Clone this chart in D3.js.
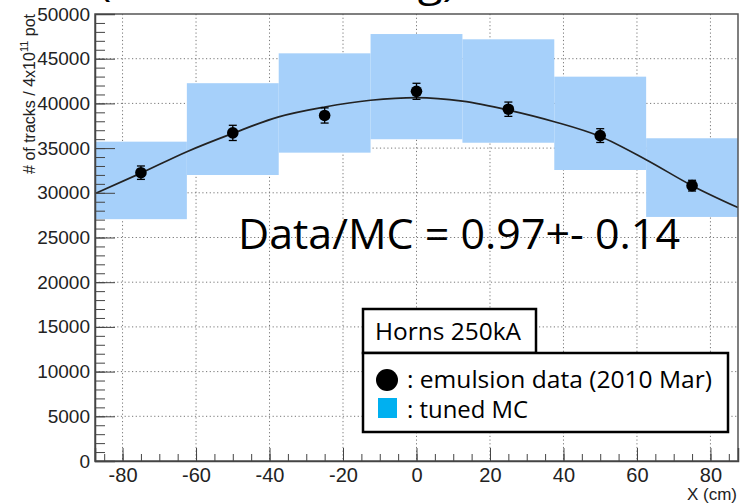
<!DOCTYPE html>
<html>
<head>
<meta charset="utf-8">
<script src="https://cdn.jsdelivr.net/npm/d3@7"></script>
<style>
body { margin: 0; background: #fff; }
svg { display: block; }
.axis path, .axis line { stroke: #444; }
.grid line { stroke: #777; stroke-dasharray: 1.2,2.5; }
.cal { font-family: "Open Sans", "Noto Sans", sans-serif; fill: #000; }
</style>
</head>
<body>
<svg width="747" height="503"></svg>
<script>

// X positions of the measurements (cm)
var posX = [-75, -50, -25, 0, 25, 50, 75];
// emulsion data, tracks / 4x10^11 pot
var dataY   = [32250, 36700, 38650, 41350, 39350, 36400, 30800];
var dataErr = [750, 850, 850, 900, 800, 770, 600];

// tuned MC: bin edges and band limits
var binEdges = [-87.5, -62.5, -37.5, -12.5, 12.5, 37.5, 62.5, 87.5];
var mcLow  = [27050, 31990, 34490, 35990, 35600, 32550, 27300];
var mcHigh = [35720, 42260, 45600, 47760, 47170, 42990, 36100];

// fitted curve, sampled
var fitX = [-87.5, -75, -62.5, -50, -37.5, -25, -12.5, 0, 12.5, 25, 37.5, 50, 62.5, 75, 87.5];
var fitY = [29900, 32200, 34600, 36650, 38500, 39600, 40350, 40650, 40250, 39250, 37950, 36300, 33700, 30800, 28350];

var xMajor = [-80, -60, -40, -20, 0, 20, 40, 60, 80];
var yMajor = [0, 5000, 10000, 15000, 20000, 25000, 30000, 35000, 40000, 45000, 50000];

var svg = d3.select("svg");
var arial = "'Liberation Sans', Arial, sans-serif";
var plain = function(d) { return String(d); };

var x = d3.scaleLinear().domain([-87.5, 87.5]).range([95, 738]);
var y = d3.scaleLinear().domain([0, 50000]).range([461, 14]);

// dotted grid
var grid = svg.append("g").attr("class", "grid");
grid.selectAll("line.gx")
    .data(xMajor).enter().append("line")
    .attr("x1", function(d) { return x(d); })
    .attr("x2", function(d) { return x(d); })
    .attr("y1", y(50000)).attr("y2", y(0));
grid.selectAll("line.gy")
    .data(yMajor.slice(1, -1)).enter().append("line")
    .attr("x1", x(-87.5)).attr("x2", x(87.5))
    .attr("y1", function(d) { return y(d); })
    .attr("y2", function(d) { return y(d); });

// MC band
svg.append("g").selectAll("rect")
    .data(mcLow).enter().append("rect")
    .attr("x", function(d, i) { return x(binEdges[i]); })
    .attr("width", function(d, i) { return x(binEdges[i + 1]) - x(binEdges[i]); })
    .attr("y", function(d, i) { return y(mcHigh[i]); })
    .attr("height", function(d, i) { return y(d) - y(mcHigh[i]); })
    .attr("fill", "#a6d0fa");

// fit
var line = d3.line()
    .x(function(d, i) { return x(fitX[i]); })
    .y(function(d) { return y(d); })
    .curve(d3.curveMonotoneX);
svg.append("path")
    .datum(fitY)
    .attr("d", line)
    .attr("fill", "none")
    .attr("stroke", "#222")
    .attr("stroke-width", 1.7);

// data points with error bars
var pts = svg.append("g");
pts.selectAll("line.err")
    .data(dataY).enter().append("line")
    .attr("x1", function(d, i) { return x(posX[i]); })
    .attr("x2", function(d, i) { return x(posX[i]); })
    .attr("y1", function(d, i) { return y(d - dataErr[i]); })
    .attr("y2", function(d, i) { return y(d + dataErr[i]); })
    .attr("stroke", "#000").attr("stroke-width", 1.3);
[-1, 1].forEach(function(s) {
  pts.selectAll(null)
      .data(dataY).enter().append("line")
      .attr("x1", function(d, i) { return x(posX[i]) - 4; })
      .attr("x2", function(d, i) { return x(posX[i]) + 4; })
      .attr("y1", function(d, i) { return y(d + s * dataErr[i]); })
      .attr("y2", function(d, i) { return y(d + s * dataErr[i]); })
      .attr("stroke", "#000").attr("stroke-width", 1.3);
});
pts.selectAll("circle")
    .data(dataY).enter().append("circle")
    .attr("cx", function(d, i) { return x(posX[i]); })
    .attr("cy", function(d) { return y(d); })
    .attr("r", 5.8)
    .attr("fill", "#000");

// frame
svg.append("rect")
    .attr("x", x(-87.5)).attr("y", y(50000))
    .attr("width", x(87.5) - x(-87.5)).attr("height", y(0) - y(50000))
    .attr("fill", "none").attr("stroke", "#555").attr("stroke-width", 1.5);

// axes, ticks pointing inward
var yAxis = svg.append("g").attr("class", "axis")
    .attr("transform", "translate(" + x(-87.5) + ",0)")
    .call(d3.axisLeft(y).tickValues(yMajor).tickSize(-20).tickPadding(5).tickFormat(plain));
yAxis.selectAll("text")
    .style("font-family", arial).style("font-size", "19px").attr("fill", "#222");
svg.append("g").attr("class", "axis")
    .attr("transform", "translate(" + x(-87.5) + ",0)")
    .call(d3.axisLeft(y).tickValues(d3.range(0, 50001, 1000)).tickSize(-10).tickFormat(""))
    .select(".domain").remove();

var xAxis = svg.append("g").attr("class", "axis")
    .attr("transform", "translate(0," + y(0) + ")")
    .call(d3.axisBottom(x).tickValues(xMajor).tickSize(-13).tickPadding(7).tickFormat(plain));
xAxis.selectAll("text")
    .style("font-family", arial).style("font-size", "20px").attr("fill", "#222");
svg.append("g").attr("class", "axis")
    .attr("transform", "translate(0," + y(0) + ")")
    .call(d3.axisBottom(x).tickValues(d3.range(-85, 86, 5)).tickSize(-7).tickFormat(""))
    .select(".domain").remove();
svg.selectAll(".axis .domain").attr("stroke-width", 1.5);

// axis titles
svg.append("text")
    .attr("x", 737).attr("y", 500)
    .attr("text-anchor", "end")
    .style("font-family", arial)
    .style("font-size", "17px").attr("fill", "#222")
    .text("X (cm)");

var yt = svg.append("text")
    .attr("transform", "translate(35,14) rotate(-90)")
    .attr("text-anchor", "end")
    .style("font-family", arial)
    .style("font-size", "16px").attr("fill", "#222");
yt.append("tspan").text("# of tracks / 4x10");
yt.append("tspan").attr("dy", -7).style("font-size", "11px").text("11");
yt.append("tspan").attr("dy", 7).text(" pot");

// heading, cut by the top edge
svg.append("text")
    .attr("class", "cal")
    .attr("x", 98).attr("y", -4)
    .attr("textLength", 358).attr("lengthAdjust", "spacingAndGlyphs")
    .style("font-size", "40px")
    .text("(MC after tuning)");

// ratio
svg.append("text")
    .attr("class", "cal")
    .attr("x", 238).attr("y", 249)
    .attr("textLength", 442).attr("lengthAdjust", "spacingAndGlyphs")
    .style("font-size", "42px")
    .text("Data/MC = 0.97+- 0.14");

// legend
var lg = svg.append("g");
lg.append("rect")
    .attr("x", 363).attr("y", 309).attr("width", 173).attr("height", 44)
    .attr("fill", "#fff").attr("stroke", "#000").attr("stroke-width", 2.5);
lg.append("rect")
    .attr("x", 363).attr("y", 353).attr("width", 365).attr("height", 79)
    .attr("fill", "#fff").attr("stroke", "#000").attr("stroke-width", 2.5);
lg.append("text").attr("class", "cal")
    .attr("x", 375).attr("y", 340)
    .attr("textLength", 146).attr("lengthAdjust", "spacingAndGlyphs")
    .style("font-size", "23px").text("Horns 250kA");
lg.append("circle").attr("cx", 387).attr("cy", 380).attr("r", 11).attr("fill", "#000");
lg.append("text").attr("class", "cal")
    .attr("x", 407).attr("y", 388)
    .attr("textLength", 305).attr("lengthAdjust", "spacingAndGlyphs")
    .style("font-size", "23px").text(": emulsion data (2010 Mar)");
lg.append("rect").attr("x", 378).attr("y", 398).attr("width", 19).attr("height", 20).attr("fill", "#00b0f0");
lg.append("text").attr("class", "cal")
    .attr("x", 407).attr("y", 418)
    .attr("textLength", 121).attr("lengthAdjust", "spacingAndGlyphs")
    .style("font-size", "23px").text(": tuned MC");

</script>
</body>
</html>
